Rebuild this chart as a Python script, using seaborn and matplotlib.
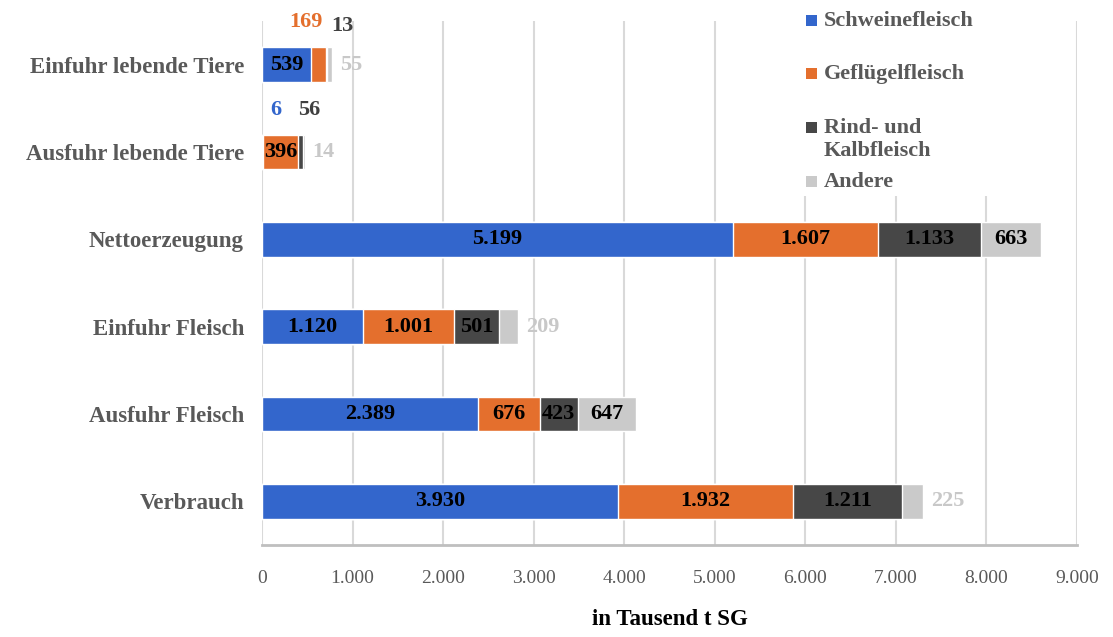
import numpy as np
import pandas as pd
import seaborn as sns
import matplotlib.pyplot as plt
from matplotlib.patches import Rectangle

# Fleischbilanz nach Fleischart (in Tausend t Schlachtgewicht)
categories = ["Einfuhr lebende Tiere", "Ausfuhr lebende Tiere", "Nettoerzeugung",
              "Einfuhr Fleisch", "Ausfuhr Fleisch", "Verbrauch"]
schwein = [539, 6, 5199, 1120, 2389, 3930]
gefluegel = [169, 396, 1607, 1001, 676, 1932]
rind = [13, 56, 1133, 501, 423, 1211]
andere = [55, 14, 663, 209, 647, 225]
series_names = ["Schweinefleisch", "Geflügelfleisch", "Rind- und\nKalbfleisch", "Andere"]
x_ticks = list(range(0, 9001, 1000))
x_label = "in Tausend t SG"

colors = ["#3366CC", "#E46F2D", "#474747", "#CACACA"]
label_colors = ["#3366CC", "#E46F2D", "#404040", "#C8C8C8"]

sns.set_style("white")
plt.rcParams["font.family"] = ["Liberation Serif", "DejaVu Serif"]

df = pd.DataFrame({"Kategorie": categories, "s0": schwein, "s1": gefluegel,
                   "s2": rind, "s3": andere})
values = df[["s0", "s1", "s2", "s3"]].to_numpy()
cum = values.cumsum(axis=1)

fig = plt.figure(figsize=(11.13, 6.37), dpi=100)
ax = fig.add_axes([262 / 1113, 92 / 637, 815 / 1113, 524 / 637])

# stacked bars: draw cumulative totals from the outermost series inwards
for k in range(3, -1, -1):
    sns.barplot(x=cum[:, k], y=df["Kategorie"], orient="h", color=colors[k],
                width=0.4, saturation=1, ax=ax, zorder=3)

ax.set_xlim(0, 9000)
ax.set_ylim(5.5, -0.5)
ax.set_xticks(x_ticks)
ax.set_xticklabels([f"{v:,.0f}".replace(",", ".") for v in x_ticks],
                   fontsize=14, color="#595959")
ax.tick_params(axis="x", length=6, width=1.5, color="#BFBFBF", pad=12)
ax.tick_params(axis="y", length=0, pad=13)
for lab in ax.get_yticklabels():
    lab.set_fontsize(16.5)
    lab.set_fontweight("bold")
    lab.set_color("#595959")
ax.set_ylabel("")
ax.set_xlabel(x_label, fontsize=16.5, fontweight="bold", color="black", labelpad=16)

ax.grid(axis="x", color="#D9D9D9", linewidth=1.5, zorder=0)
ax.set_axisbelow(True)
for side in ["top", "right", "left"]:
    ax.spines[side].set_visible(False)
ax.spines["bottom"].set_color("#BFBFBF")
ax.spines["bottom"].set_linewidth(2)

# value labels
above_nudge = {(0, 1): (-13, -1), (0, 2): (16, -5), (1, 0): (14, -2), (1, 2): (8, -2)}
for i in range(len(categories)):
    for k in range(4):
        v = values[i, k]
        start = cum[i, k] - v
        txt = f"{v:,.0f}".replace(",", ".")
        if v >= 300:
            ax.text(start + v / 2, i, txt, ha="center", va="center", fontsize=16,
                    fontweight="bold", color="black", zorder=5)
        elif k == 3:
            ax.annotate(txt, (cum[i, k], i), xytext=(8, 0), textcoords="offset pixels",
                        ha="left", va="center", fontsize=16, fontweight="bold",
                        color=label_colors[k], zorder=5)
        else:
            ax.annotate(txt, (start + v / 2, i - 0.5),
                        xytext=above_nudge.get((i, k), (0, -2)),
                        textcoords="offset pixels", ha="center", va="center",
                        fontsize=16, fontweight="bold", color=label_colors[k], zorder=5)

# legend box in the upper right corner
fig.patches.append(Rectangle((800 / 1113, 1 - 196 / 637), 192 / 1113, 196 / 637,
                             transform=fig.transFigure, facecolor="white",
                             edgecolor="none", zorder=10))
legend_rows = [20, 73, 127, 181]
for k, name in enumerate(series_names):
    y = legend_rows[k]
    fig.patches.append(Rectangle((806 / 1113, 1 - (y + 6) / 637), 11 / 1113, 11 / 637,
                                 transform=fig.transFigure, facecolor=colors[k],
                                 edgecolor="none", zorder=11))
    fig.text(824 / 1113, 1 - (y - 9) / 637, name, ha="left", va="top",
             fontsize=16, fontweight="bold", color="#595959", zorder=12,
             linespacing=1.2)

fig.savefig("out.png", dpi=100, facecolor="white")
